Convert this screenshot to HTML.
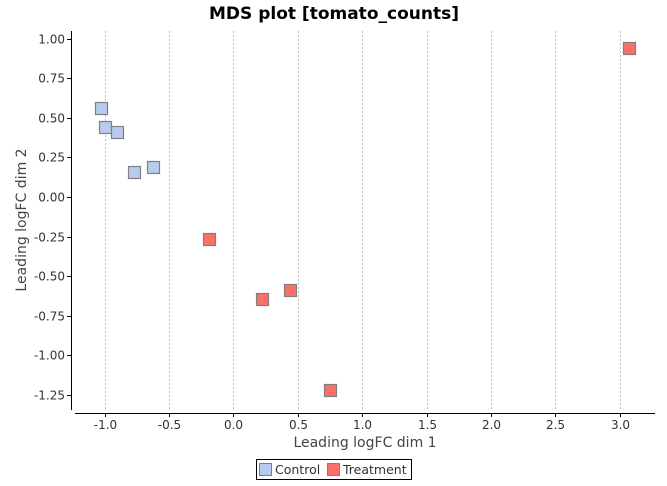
<!DOCTYPE html>
<html><head><meta charset="utf-8"><style>
body{margin:0;background:#fff;font-family:"DejaVu Sans","Liberation Sans",sans-serif}
</style></head><body>
<svg width="667" height="482" xmlns="http://www.w3.org/2000/svg" font-family="DejaVu Sans, Liberation Sans, sans-serif">
<rect width="667" height="482" fill="#fff"/>
<text x="334" y="19" text-anchor="middle" font-size="17" font-weight="bold">MDS plot [tomato_counts]</text>
<g id="grid"></g>
<g id="axes"></g>
<g id="points"></g>
<text x="365" y="447" text-anchor="middle" font-size="14" fill="#444">Leading logFC dim 1</text>
<text transform="translate(26,220) rotate(-90)" text-anchor="middle" font-size="14" fill="#444">Leading logFC dim 2</text>
<g>
<rect x="256.5" y="459.5" width="155" height="20" fill="#fff" stroke="#000"/>
<g>
<rect x="259.5" y="463.5" width="12" height="12" fill="#b8cbee" stroke="#808080"/>
<text x="275" y="474" font-size="12.5" fill="#333">Control</text></g>
<g>
<rect x="327.5" y="463.5" width="12" height="12" fill="#fd6e6b" stroke="#808080"/>
<text x="343" y="474" font-size="12.5" fill="#333">Treatment</text></g>
</g>
</svg>
<script>
const xTicks=[-1.0,-0.5,0.0,0.5,1.0,1.5,2.0,2.5,3.0];
const yTicks=[1.00,0.75,0.50,0.25,0.00,-0.25,-0.50,-0.75,-1.00,-1.25];
const controlX=[-1.03,-1.0,-0.9,-0.77,-0.62];
const controlY=[0.56,0.44,0.41,0.16,0.19];
const treatX=[-0.186,0.225,0.443,0.75,3.07];
const treatY=[-0.267,-0.646,-0.589,-1.22,0.94];
const NS="http://www.w3.org/2000/svg";
const sx=v=>233.3+v*128.8, sy=v=>197-v*158.3;
const L=71,R=655,T=31,B=410,XA=413;
function mk(t,a,p){const e=document.createElementNS(NS,t);for(const k in a)e.setAttribute(k,a[k]);p.appendChild(e);return e;}
const grid=document.getElementById('grid'),axes=document.getElementById('axes'),pts=document.getElementById('points');
xTicks.forEach(v=>{const x=Math.round(sx(v))+0.5;
const g=mk('line',{x1:x,x2:x,y1:T,y2:B,stroke:'#c0c0c0','stroke-dasharray':'2,2'},grid);


mk('line',{x1:x,x2:x,y1:XA,y2:XA+4,stroke:'#000'},axes);
const t=mk('text',{x:x,y:XA+16,'text-anchor':'middle','font-size':'12',fill:'#333'},axes);t.textContent=v.toFixed(1);

});
yTicks.forEach(v=>{const y=Math.round(sy(v))+0.5;
mk('line',{x1:L-4,x2:L,y1:y,y2:y,stroke:'#000'},axes);
const t=mk('text',{x:L-6,y:y+4,'text-anchor':'end','font-size':'12',fill:'#333'},axes);t.textContent=v.toFixed(2);

});
const ya=mk('line',{x1:L+0.5,x2:L+0.5,y1:T,y2:B,stroke:'#000'},axes);


const xa=mk('line',{x1:75,x2:R,y1:XA+0.5,y2:XA+0.5,stroke:'#000'},axes);


function draw(xs,ys,fill,name){xs.forEach((v,i)=>{const r=mk('rect',{x:Math.round(sx(v))-6+0.5,y:Math.round(sy(ys[i]))-6+0.5,width:12,height:12,fill:fill,stroke:'#808080','stroke-width':1.2},pts);

});}
draw(controlX,controlY,'#b8cbee','control-point');
draw(treatX,treatY,'#fd6e6b','treatment-point');
</script>
</body></html>
